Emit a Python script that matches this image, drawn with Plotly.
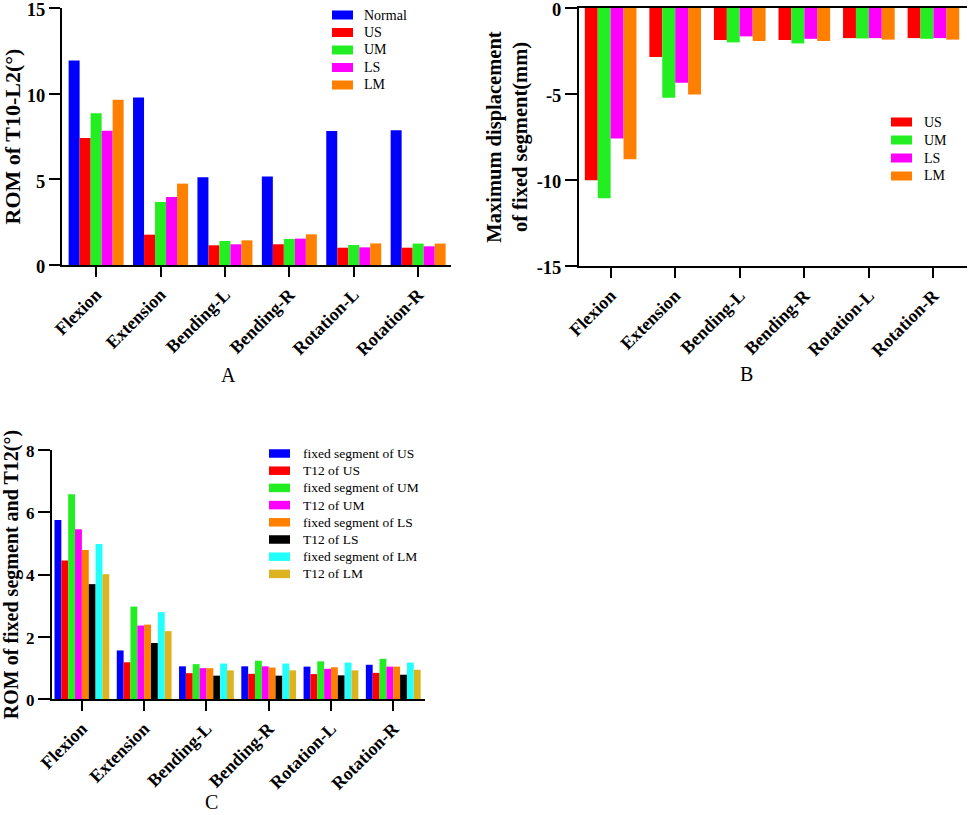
import plotly.graph_objects as go

W, H = 969, 815

categories = ["Flexion", "Extension", "Bending-L", "Bending-R", "Rotation-L", "Rotation-R"]

# Panel A: ROM of T10-L2 (deg)
a_names = ["Normal", "US", "UM", "LS", "LM"]
a_normal = [11.93, 9.77, 5.12, 5.16, 7.82, 7.86]
a_us = [7.41, 1.77, 1.15, 1.21, 1.01, 1.01]
a_um = [8.85, 3.68, 1.40, 1.52, 1.17, 1.25]
a_ls = [7.84, 3.97, 1.21, 1.54, 1.03, 1.09]
a_lm = [9.65, 4.75, 1.44, 1.79, 1.26, 1.25]
a_ticks = [0, 5, 10, 15]

# Panel B: maximum displacement of fixed segment (mm)
b_names = ["US", "UM", "LS", "LM"]
b_us = [-10.01, -2.85, -1.86, -1.86, -1.75, -1.75]
b_um = [-11.06, -5.22, -2.00, -2.06, -1.77, -1.79]
b_ls = [-7.59, -4.35, -1.65, -1.79, -1.75, -1.75]
b_lm = [-8.79, -5.03, -1.92, -1.92, -1.84, -1.84]
b_ticks = [0, -5, -10, -15]
b_ticktext = ["0", "-5", "-10", "-15"]

# Panel C: ROM of fixed segment and T12 (deg)
c_names = ["fixed segment of US", "T12 of US", "fixed segment of UM", "T12 of UM",
           "fixed segment of LS", "T12 of LS", "fixed segment of LM", "T12 of LM"]
c_fs_us = [5.75, 1.56, 1.05, 1.05, 1.04, 1.10]
c_t12_us = [4.45, 1.18, 0.83, 0.81, 0.80, 0.84]
c_fs_um = [6.58, 2.97, 1.12, 1.23, 1.21, 1.29]
c_t12_um = [5.45, 2.36, 0.99, 1.05, 0.97, 1.04]
c_fs_ls = [4.79, 2.39, 0.99, 1.01, 1.02, 1.04]
c_t12_ls = [3.69, 1.80, 0.75, 0.75, 0.76, 0.78]
c_fs_lm = [4.98, 2.79, 1.14, 1.14, 1.17, 1.17]
c_t12_lm = [4.01, 2.18, 0.92, 0.92, 0.92, 0.94]
c_ticks = [0, 2, 4, 6, 8]

BLUE, RED, GREEN, MAGENTA, ORANGE = "#0000FF", "#FF0000", "#22EE22", "#FF00FF", "#FF8000"
BLACK, CYAN, GOLD = "#000000", "#22FFFF", "#DDB320"

SERIF = "Liberation Serif"


def px_x(p):
    return p / W


def px_y(p):
    return 1 - p / H


fig = go.Figure()
shapes = []
annotations = []


def add_group(series, names, colors, xa, ya, group_width):
    n = len(series)
    w = group_width / n
    for i, (vals, name, col) in enumerate(zip(series, names, colors)):
        fig.add_trace(go.Bar(
            x=categories, y=vals, name=name,
            marker=dict(color=col, line=dict(width=0)),
            width=w, offset=-group_width / 2 + i * w,
            xaxis=xa, yaxis=ya, showlegend=False,
        ))


def add_legend(names, colors, sw_x0, sw_x1, text_x, y0, step, sw_h, fsize):
    for i, (name, col) in enumerate(zip(names, colors)):
        yc = y0 + i * step
        shapes.append(dict(type="rect", xref="paper", yref="paper",
                           x0=px_x(sw_x0), x1=px_x(sw_x1),
                           y0=px_y(yc - sw_h / 2), y1=px_y(yc + sw_h / 2),
                           fillcolor=col, line=dict(width=0), layer="above"))
        annotations.append(dict(text=name, xref="paper", yref="paper",
                                x=px_x(text_x), y=px_y(yc), xanchor="left",
                                yanchor="middle", showarrow=False,
                                font=dict(family=SERIF, size=fsize, color="black")))


a_colors = [BLUE, RED, GREEN, MAGENTA, ORANGE]
b_colors = [RED, GREEN, MAGENTA, ORANGE]
c_colors = [BLUE, RED, GREEN, MAGENTA, ORANGE, BLACK, CYAN, GOLD]

add_group([a_normal, a_us, a_um, a_ls, a_lm], a_names, a_colors, "x", "y", 0.854)
add_group([b_us, b_um, b_ls, b_lm], b_names, b_colors, "x2", "y2", 0.80)
add_group([c_fs_us, c_t12_us, c_fs_um, c_t12_um, c_fs_ls, c_t12_ls, c_fs_lm, c_t12_lm],
          c_names, c_colors, "x3", "y3", 0.88)

add_legend(a_names, a_colors, 332, 353, 362, 15, 17.5, 9, 14)
add_legend(b_names, b_colors, 891, 912, 922, 122, 18, 9, 14)
add_legend(c_names, c_colors, 269, 290, 301, 453.5, 17.2, 8.5, 13.5)

catfont = dict(family=SERIF, size=18, color="black", weight="bold")


def xaxis(domain, anchor, rng, mirror=False):
    return dict(domain=domain, anchor=anchor, type="category", range=rng,
                showline=True, linecolor="black", linewidth=2, mirror=mirror,
                ticks="outside", ticklen=10, tickwidth=2, tickcolor="black",
                tickangle=-45, tickfont=catfont, showgrid=False, zeroline=False,
                automargin=False, fixedrange=True, ticklabeloverflow="allow")


def yaxis(domain, anchor, rng, tickvals, title, standoff, tsize, ttsize, ticklen,
          shift, ticktext=None):
    d = dict(domain=domain, anchor=anchor, range=rng, tickvals=tickvals,
             showline=True, linecolor="black", linewidth=2,
             ticks="outside", ticklen=ticklen, tickwidth=2, tickcolor="black",
             tickfont=dict(family=SERIF, size=tsize, color="black", weight="bold"),
             ticklabelshift=shift,
             showgrid=False, zeroline=False,
             title=dict(text=title, standoff=standoff,
                        font=dict(family=SERIF, size=ttsize, color="black", weight="bold")),
             automargin=False, fixedrange=True, ticklabeloverflow="allow")
    if ticktext is not None:
        d["ticktext"] = ticktext
    return d


label_font = dict(family=SERIF, size=20, color="black")
for txt, lx, ly in [("A", 228, 375), ("B", 746, 374), ("C", 211, 802)]:
    annotations.append(dict(text=txt, x=px_x(lx), y=px_y(ly), xref="paper", yref="paper",
                            xanchor="center", yanchor="middle", showarrow=False,
                            borderpad=0, font=label_font))

fig.update_layout(
    width=W, height=H,
    margin=dict(l=0, r=0, t=0, b=0),
    paper_bgcolor="white", plot_bgcolor="white",
    barmode="group",
    font=dict(family=SERIF, color="black"),
    xaxis=xaxis([px_x(62), px_x(451)], "y", [-0.53, 5.51]),
    yaxis=yaxis([px_y(265), px_y(8)], "x", [0, 15], a_ticks, "ROM of T10-L2(°)",
                5, 18.5, 22, 11, 2),
    xaxis2=xaxis([px_x(579), px_x(967)], "y2", [-0.49, 5.52], mirror=True),
    yaxis2=yaxis([px_y(266), px_y(8)], "x2", [-15, 0], b_ticks,
                 "Maximum displacement<br>of fixed segment(mm)", 3, 18.5, 20.5, 12,
                 2, b_ticktext),
    xaxis3=xaxis([px_x(52), px_x(425)], "y3", [-0.48, 5.51]),
    yaxis3=yaxis([px_y(699), px_y(450)], "x3", [0, 8], c_ticks,
                 "ROM of fixed segment and T12(°)", 10, 17, 20, 12, 1),
    showlegend=False,
    shapes=shapes,
    annotations=annotations,
)

fig.write_html("out.html", config={"displayModeBar": False},
               post_script="document.body.style.margin='0px';")
